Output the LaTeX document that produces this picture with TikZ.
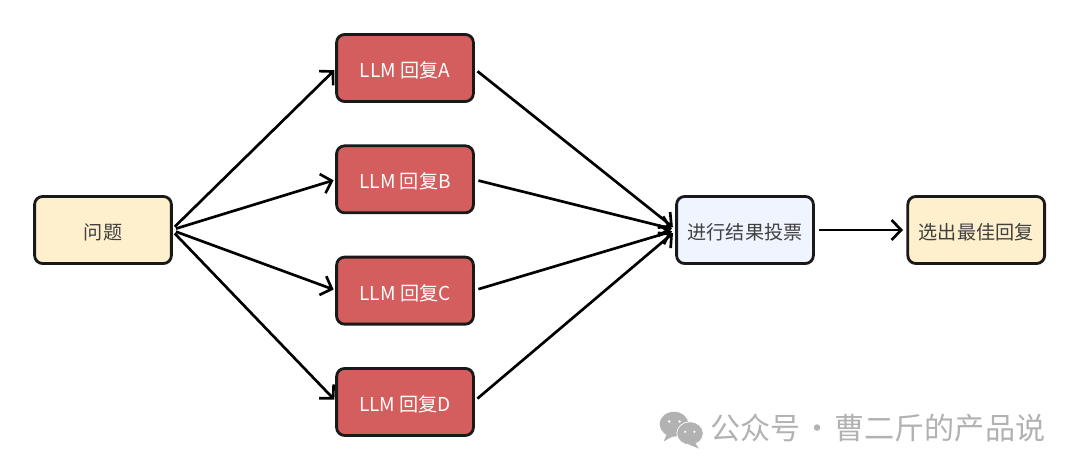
\documentclass[tikz,border=0pt]{standalone}
\usepackage{fontspec}
\setmainfont{Noto Sans CJK SC}
\usetikzlibrary{arrows.meta, positioning}
\definecolor{replyred}{HTML}{D45D5D}
\definecolor{askyellow}{HTML}{FEF0CD}
\definecolor{voteblue}{HTML}{EFF4FE}
\definecolor{marktext}{HTML}{B2B2B2}

\begin{document}
\begin{tikzpicture}[
    >={Straight Barb[length=0.24cm, width=0.5cm, line width=1.9pt]},
    box/.style={draw=black!90, line width=2pt, rounded corners=0.2cm,
                minimum width=3.42cm, minimum height=1.675cm, outer sep=0pt,
                text height=13.4pt, text depth=0pt,
                font=\fontsize{13.6pt}{16pt}\selectfont, text=black!75},
    reply/.style={box, fill=replyred, text=white},
    flow/.style={->, line width=1.9pt, black}
  ]
  \useasboundingbox (0,0) rectangle (27,11.775);

  % Question
  \node[box, fill=askyellow] at (2.575,6.025) (ask) {问题};

  % LLM replies
  \node[reply] at (10.125,10.075) (replyA) {LLM 回复A};
  \node[reply, below=1.108cm of replyA] (replyB) {LLM 回复B};
  \node[reply, below=1.108cm of replyB] (replyC) {LLM 回复C};
  \node[reply, below=1.108cm of replyC] (replyD) {LLM 回复D};

  % Vote and result
  \node[box, fill=voteblue] at (18.625,6.025) (vote) {进行结果投票};
  \node[box, fill=askyellow, right=2.36cm of vote] (best) {选出最佳回复};

  % Arrows
  \foreach \r in {A,B,C,D} {
    \draw[flow, shorten <=0.12cm, shorten >=0.08cm] (ask.east) -- (reply\r.west);
    \draw[flow, shorten <=0.13cm, shorten >=0.12cm] (reply\r.east) -- (vote.west);
  }
  \draw[flow, shorten <=0.14cm, shorten >=0.12cm] (vote.east) -- (best.west);

  % Watermark
  \fill[marktext] (16.85,1.17) ellipse (0.36cm and 0.31cm);
  \fill[marktext] (16.67,0.92) -- (16.59,0.74) -- (16.85,0.88) -- cycle;
  \fill[marktext, draw=white, line width=0.5pt] (17.25,0.94) ellipse (0.33cm and 0.29cm);
  \fill[marktext] (17.37,0.72) -- (17.47,0.56) -- (17.23,0.66) -- cycle;
  \foreach \x/\y in {16.73/1.24, 16.99/1.24} {
    \fill[white] (\x,\y) circle (0.035cm);
  }
  \foreach \x/\y in {17.13/0.98, 17.36/0.98} {
    \fill[white] (\x,\y) circle (0.03cm);
  }
  \node[text=marktext, font=\fontsize{21.4pt}{24pt}\selectfont, inner sep=0pt] at (21.95,1.08) (mark) {公众号 \hspace{-0.125cm}·\hspace{-0.125cm} 曹二斤的产品说};
\end{tikzpicture}
\end{document}
